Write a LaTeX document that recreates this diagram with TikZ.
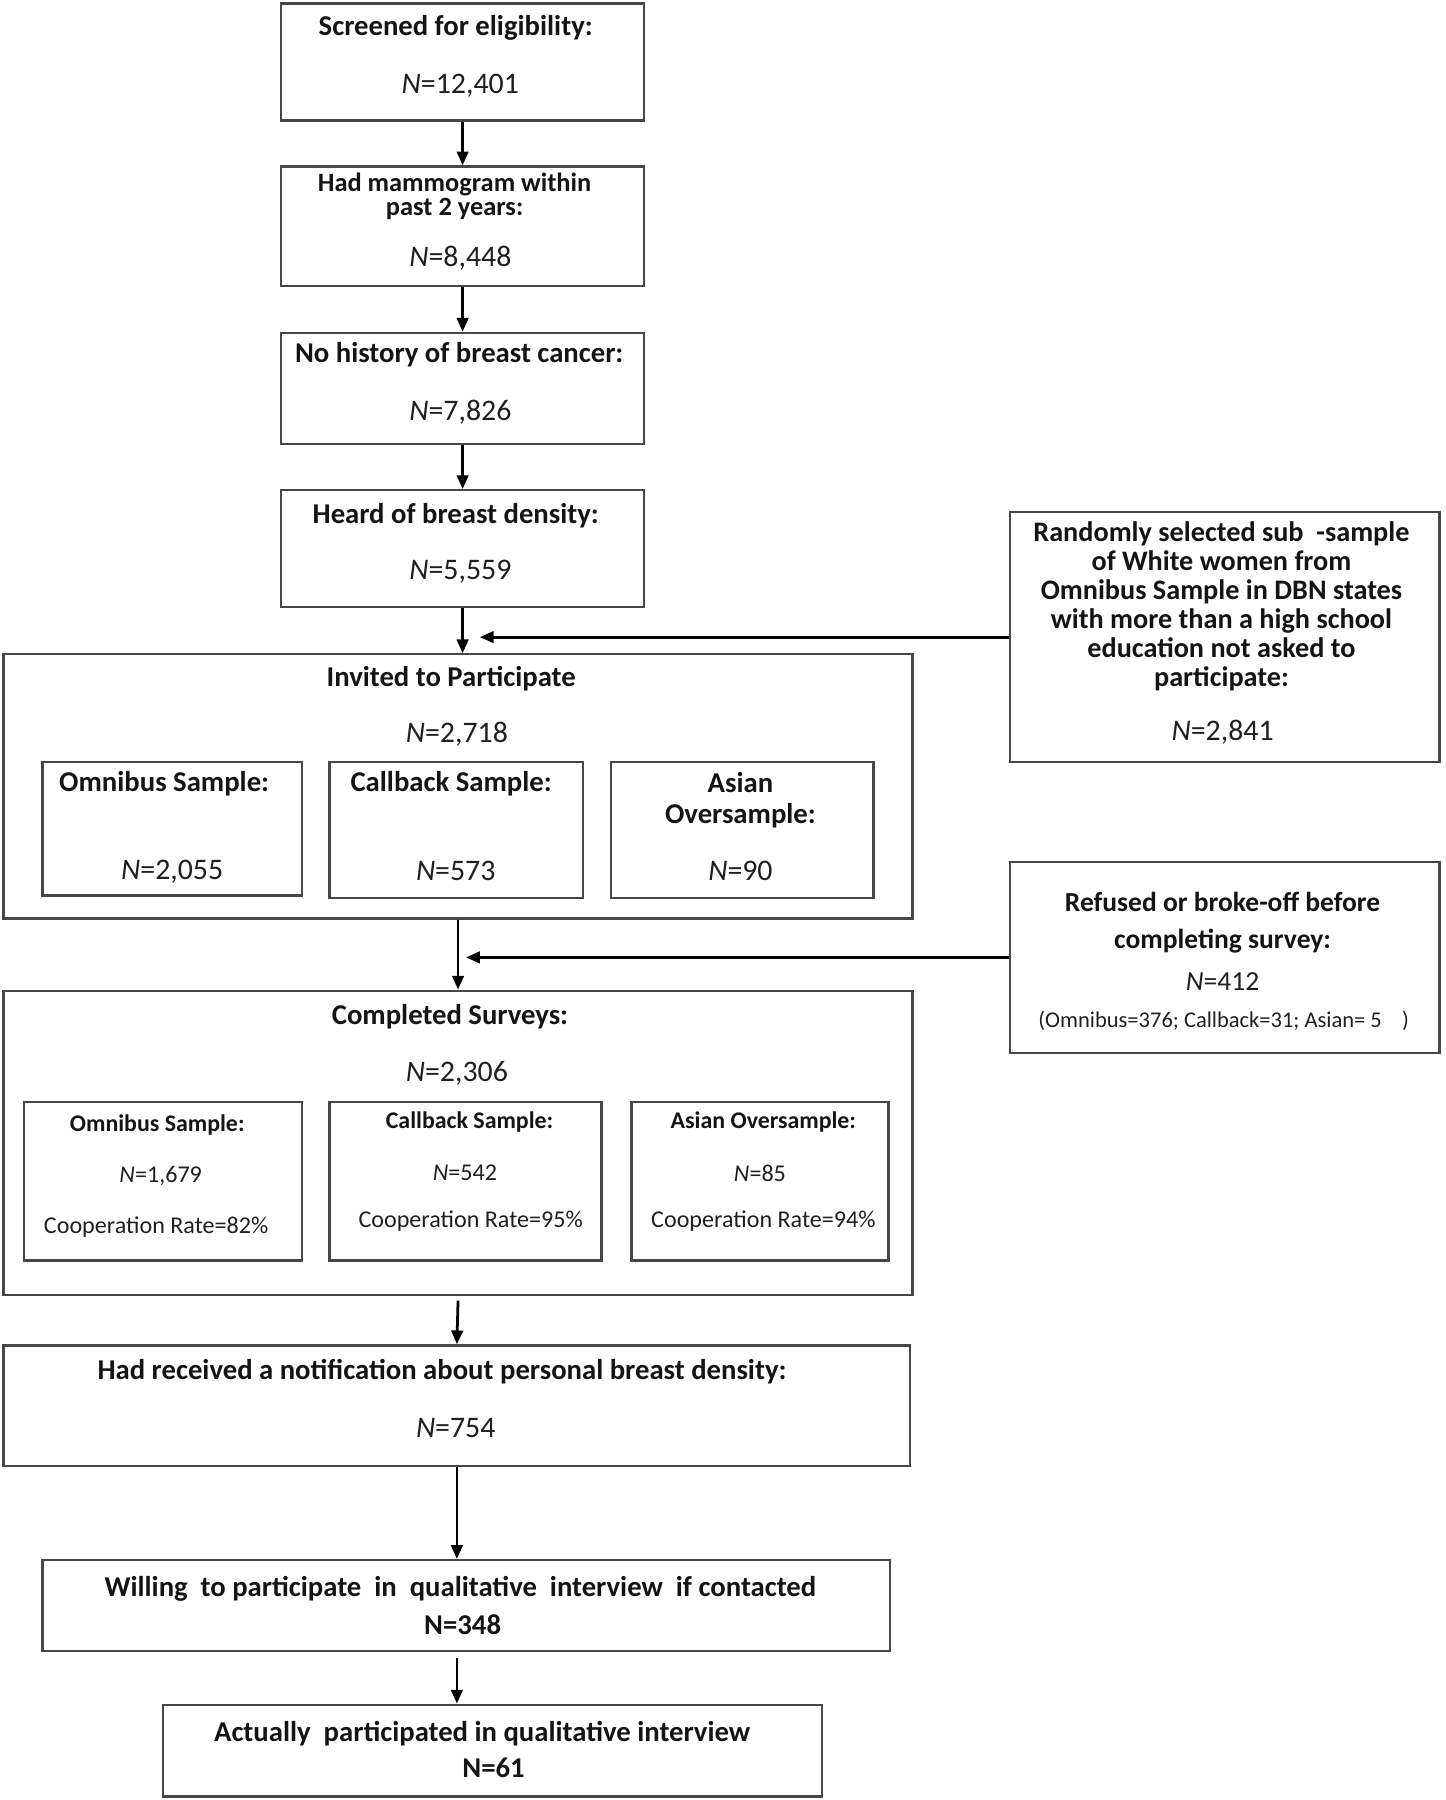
\documentclass[tikz,border=0pt]{standalone}
\usepackage{fontspec}
\setmainfont{Carlito}
\usetikzlibrary{arrows.meta}
\begin{document}
\begin{tikzpicture}[x=0.5pt,y=-0.5pt,
  box/.style={draw=black!72, line width=1pt, inner sep=0pt, fill=none},
  ttl/.style={font=\bfseries\fontsize{12.5}{15}\selectfont, inner sep=0pt, align=center, text=black!92, yshift=-1pt},
  num/.style={font=\fontsize{13}{15}\selectfont, inner sep=0pt, text=black!88, yshift=-1pt},
  sttl/.style={font=\bfseries\fontsize{10.4}{12}\selectfont, inner sep=0pt, text=black!92, yshift=-1pt},
  snum/.style={font=\fontsize{10.5}{12}\selectfont, inner sep=0pt, text=black!88, yshift=-1pt},
  arr/.style={-{Triangle[length=6pt,width=5pt]}, line width=1.2pt, black}]
\useasboundingbox (0,0) rectangle (1259,1568);

% main column boxes
\node[box, minimum width=158pt, minimum height=51pt] (b1) at (403,54) {};
\node[box, minimum width=158pt, minimum height=52pt] (b2) at (403,197) {};
\node[box, minimum width=158pt, minimum height=48.5pt] (b3) at (403,338.5) {};
\node[box, minimum width=158pt, minimum height=51pt] (b4) at (403,478) {};
\node[box, minimum width=396pt, minimum height=115pt] (inv) at (399,685) {};
\node[box, minimum width=113pt, minimum height=58pt] (om1) at (150,722) {};
\node[box, minimum width=110.5pt, minimum height=59pt] (cb1) at (397.5,723) {};
\node[box, minimum width=114.5pt, minimum height=59pt] (as1) at (646.5,723) {};
\node[box, minimum width=396pt, minimum height=132.5pt] (comp) at (399,995.5) {};
\node[box, minimum width=121pt, minimum height=69pt] (om2) at (142,1029) {};
\node[box, minimum width=118.5pt, minimum height=69pt] (cb2) at (405.5,1029) {};
\node[box, minimum width=112pt, minimum height=69pt] (as2) at (662,1029) {};
\node[box, minimum width=395pt, minimum height=52.5pt] (notif) at (398,1224.5) {};
\node[box, minimum width=369pt, minimum height=39.5pt] (will) at (406,1398.5) {};
\node[box, minimum width=287pt, minimum height=40pt] (act) at (429,1525) {};
% side boxes
\node[box, minimum width=187pt, minimum height=109pt] (rand) at (1067,555) {};
\node[box, minimum width=187pt, minimum height=83pt] (ref) at (1067,834) {};

% texts
\node[ttl] (t1) at (397,22) {Screened for eligibility:};
\node[num] (n1) at (401,73) {\textit{N}=12,401};
\node[ttl, font=\bfseries\fontsize{11.5}{10.5}\selectfont] (t2) at (396,169) {Had mammogram within\\past 2 years:};
\node[num] (n2) at (401,223) {\textit{N}=8,448};
\node[ttl] (t3) at (400,307) {No history of breast cancer:};
\node[num] (n3) at (401,357) {\textit{N}=7,826};
\node[ttl] (t4) at (397,447) {Heard of breast density:};
\node[num] (n4) at (401,496) {\textit{N}=5,559};

\node[ttl] (tinv) at (393,589) {Invited to Participate};
\node[num] (ninv) at (398,638) {\textit{N}=2,718};
\node[ttl] (tom1) at (143,681) {Omnibus Sample:};
\node[num] (nom1) at (150,757) {\textit{N}=2,055};
\node[ttl] (tcb1) at (393,681) {Callback Sample:};
\node[num] (ncb1) at (397,757) {\textit{N}=573};
\node[ttl, font=\bfseries\fontsize{12.5}{13.5}\selectfont] (tas1) at (645,695) {Asian\\Oversample:};
\node[num] (nas1) at (645,757) {\textit{N}=90};

\node[ttl, font=\bfseries\fontsize{12.3}{12.6}\selectfont] (trand) at (1064,526) {Randomly selected sub\ \ -sample\\of White women from\\Omnibus Sample in DBN states\\with more than a high school\\education not asked to\\participate:};
\node[num] (nrand) at (1065,636) {\textit{N}=2,841};

\node[ttl, font=\bfseries\fontsize{12}{14}\selectfont] (tref1) at (1065,784) {Refused or broke-off before};
\node[ttl, font=\bfseries\fontsize{12}{14}\selectfont] (tref2) at (1065,818) {completing survey:};
\node[num, font=\fontsize{12}{14}\selectfont] (nref) at (1065,853) {\textit{N}=412};
\node[snum, font=\fontsize{9.8}{12}\selectfont] (pref) at (1066,887) {(Omnibus=376; Callback=31; Asian= 5\ \ \ \ )};

\node[ttl] (tcomp) at (392,884) {Completed Surveys:};
\node[num] (ncomp) at (398,933) {\textit{N}=2,306};
\node[sttl] (tom2) at (137,978) {Omnibus Sample:};
\node[snum] (nom2) at (140,1022) {\textit{N}=1,679};
\node[snum] (rom2) at (136,1067) {Cooperation Rate=82\%};
\node[sttl] (tcb2) at (409,975) {Callback Sample:};
\node[snum] (ncb2) at (405,1020) {\textit{N}=542};
\node[snum] (rcb2) at (410,1062) {Cooperation Rate=95\%};
\node[sttl] (tas2) at (665,975) {Asian Oversample:};
\node[snum] (nas2) at (662,1020) {\textit{N}=85};
\node[snum] (ras2) at (665,1062) {Cooperation Rate=94\%};

\node[ttl] (tnot) at (385,1193) {Had received a notification about personal breast density:};
\node[num] (nnot) at (397,1242) {\textit{N}=754};
\node[ttl] (twill) at (401,1382) {Willing\ \ to participate\ \ in\ \ qualitative\ \ interview\ \ if contacted};
\node[ttl] (nwill) at (403,1413) {N=348};
\node[ttl] (tact) at (420,1508) {Actually\ \ participated in qualitative interview};
\node[ttl] (nact) at (430,1538) {N=61};

% connectors
\coordinate (c1) at (418,555);
\coordinate (c2) at (406,834);
\draw[arr] (b1) -- (b2);
\draw[arr] (b2) -- (b3);
\draw[arr] (b3) -- (b4);
\draw[arr] (b4.south) -- (b4.south |- inv.north);
\draw[arr] (rand.west) -- (c1);
\draw[arr] (inv.south) -- (inv.south |- comp.north);
\draw[arr] (ref.west) -- (c2);
\draw[arr] ([yshift=-2pt]comp.south) -- (notif.north);
\draw[arr] (notif.south) -- (notif.south |- will.north);
\draw[arr] ([yshift=-2.5pt]will.south -| notif.south) -- (notif.south |- act.north);
\end{tikzpicture}
\end{document}
